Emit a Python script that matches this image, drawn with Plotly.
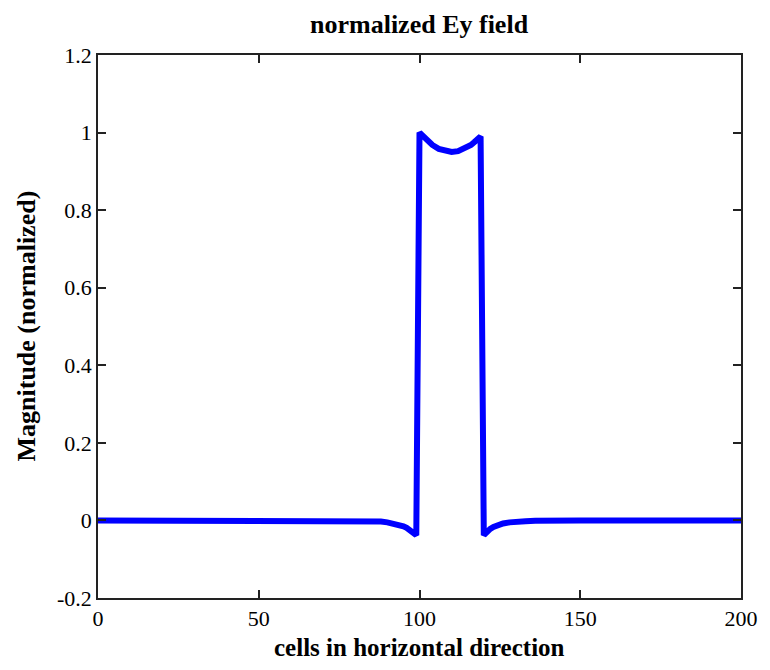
import plotly.graph_objects as go

# cell index and normalized Ey magnitude
cells = [0, 10, 20, 30, 40, 50, 60, 70, 80, 84, 86, 88, 90, 92, 94, 95, 96, 97, 98, 99,
         100, 101, 102, 104, 106, 108, 110, 112, 114, 116, 117, 118, 119,
         120, 121, 122, 123, 124, 126, 128, 130, 133, 136, 140, 150, 160, 170, 180, 190, 200]
ey = [0, 0, 0, 0, 0, 0, 0, 0, 0, -0.001, -0.002, -0.003, -0.005, -0.008, -0.012, -0.015, -0.019, -0.024, -0.030, -0.038,
      1.0, 0.992, 0.983, 0.968, 0.958, 0.952, 0.950, 0.952, 0.958, 0.968, 0.975, 0.982, 0.99,
      -0.038, -0.029, -0.022, -0.017, -0.013, -0.008, -0.005, -0.003, -0.002, -0.001, 0, 0, 0, 0, 0, 0, 0]

x_ticks = [0, 50, 100, 150, 200]
y_ticks = [-0.2, 0, 0.2, 0.4, 0.6, 0.8, 1.0, 1.2]
y_tick_text = ["-0.2", "0", "0.2", "0.4", "0.6", "0.8", "1", "1.2"]

title_text = "normalized Ey field"
x_label = "cells in horizontal direction"
y_label = "Magnitude (normalized)"

FONT = "Liberation Serif, Times New Roman, serif"

fig = go.Figure()
fig.add_trace(go.Scatter(x=cells, y=ey, mode="lines",
                         line=dict(color="#0000FF", width=6), hoverinfo="skip"))

axis_common = dict(showgrid=False, zeroline=False, showline=True, linecolor="#222222",
                   linewidth=1.5, mirror="ticks", ticks="inside", ticklen=8,
                   tickcolor="#222222", tickwidth=1.5,
                   tickfont=dict(family=FONT, size=22, color="#000000"))

fig.update_xaxes(range=[0, 200], tickvals=x_ticks, ticktext=[str(v) for v in x_ticks], **axis_common)
fig.update_yaxes(range=[-0.2, 1.2], tickvals=y_ticks, ticktext=y_tick_text, **axis_common)

fig.update_layout(
    width=770, height=670,
    margin=dict(l=98, r=26, t=55, b=72),
    paper_bgcolor="white", plot_bgcolor="white",
    showlegend=False,
    annotations=[
        dict(text="<b>%s</b>" % title_text, xref="paper", yref="paper", x=0.5, y=1,
             xanchor="center", yanchor="middle",
             yshift=31, showarrow=False, font=dict(family=FONT, size=26, color="#000000")),
        dict(text="<b>%s</b>" % x_label, xref="paper", yref="paper", x=0.5, y=0,
             xanchor="center", yanchor="middle",
             yshift=-49, showarrow=False, font=dict(family=FONT, size=25, color="#000000")),
        dict(text="<b>%s</b>" % y_label, xref="paper", yref="paper", x=0, y=0.5,
             xanchor="center", yanchor="middle",
             xshift=-72, textangle=-90, showarrow=False,
             font=dict(family=FONT, size=26, color="#000000")),
    ],
)

fig.write_html("out.html")
